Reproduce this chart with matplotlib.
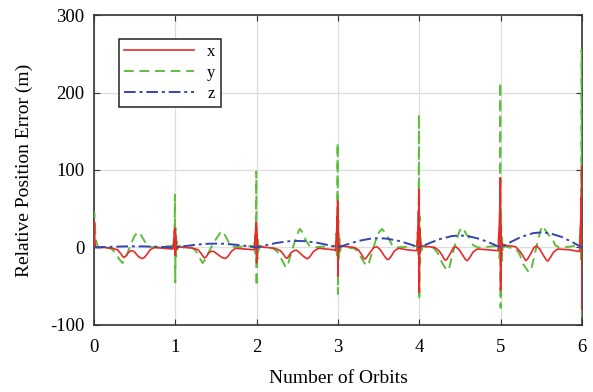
import numpy as np
import matplotlib
matplotlib.use("Agg")
import matplotlib.pyplot as plt

plt.rcParams['font.family'] = ['Liberation Serif', 'DejaVu Serif']
plt.rcParams['axes.unicode_minus'] = False

# x error (m) vs orbit count
x_t = [0, .003, .006, .01, .016, .03, .12, .22, .29, .33, .355, .37, .39, .42, .445, .47, .50, .54, .58, .60, .62, .65, .69, .74, .85, .95,
       .97, .985, .99, .994, .996, .999, 1.003, 1.008, 1.015, 1.03,
       1.12, 1.22, 1.28, 1.32, 1.345, 1.36, 1.38, 1.41, 1.44, 1.47, 1.51, 1.56, 1.6, 1.62, 1.65, 1.69, 1.74, 1.85, 1.95,
       1.97, 1.985, 1.99, 1.994, 1.996, 1.999, 2.003, 2.008, 2.015, 2.03,
       2.12, 2.22, 2.29, 2.33, 2.355, 2.37, 2.39, 2.42, 2.46, 2.49, 2.52, 2.57, 2.61, 2.63, 2.66, 2.7, 2.76, 2.85, 2.95,
       2.97, 2.985, 2.99, 2.994, 2.996, 2.999, 3.003, 3.008, 3.015, 3.03,
       3.12, 3.2, 3.25, 3.29, 3.315, 3.33, 3.35, 3.39, 3.44, 3.48, 3.52, 3.57, 3.6, 3.62, 3.65, 3.69, 3.74, 3.85, 3.95,
       3.97, 3.985, 3.99, 3.994, 3.996, 3.999, 4.003, 4.008, 4.015, 4.03,
       4.12, 4.19, 4.24, 4.28, 4.305, 4.32, 4.34, 4.38, 4.42, 4.45, 4.49, 4.54, 4.57, 4.59, 4.62, 4.66, 4.71, 4.85, 4.95,
       4.97, 4.985, 4.99, 4.994, 4.996, 4.999, 5.003, 5.008, 5.015, 5.03,
       5.12, 5.18, 5.23, 5.27, 5.295, 5.31, 5.33, 5.37, 5.41, 5.44, 5.48, 5.53, 5.56, 5.58, 5.61, 5.65, 5.7, 5.85, 5.95,
       5.97, 5.985, 5.99, 5.994, 5.996, 5.999, 6.0]
x_err = [0, 25, 33, 10, 2, 0, 0, -1, -3, -8, -12, -13, -11, -7, -4.5, -4, -6, -11, -14, -14, -13, -9, -3, 0, -1, -2,
         -2, 12, 22, 8, 25, -10, 15, 2, -3, 1,
         0, -1, -3, -8, -12, -13.5, -12, -7, -5, -5, -8, -12, -14, -14, -11, -5, -1, -2, -3,
         -3, 18, 30, 10, 32, -20, 18, -2, 3, 1,
         0, -1, -4, -9, -13, -14, -12, -7, -4, -3.5, -6, -11, -14, -14.5, -11, -5, -1, -2, -3,
         -4, 25, 40, 15, 60, -37, 20, -5, 5, 2,
         1, 0, -3, -9, -14, -15, -13, -7, 0, 1, -3, -11, -15, -15.5, -12, -5, -1, -3, -4,
         -4, 30, 48, 20, 75, -58, 25, -8, 5, 2,
         1, 0, -4, -10, -15, -16.5, -15, -8, 0, 1, -3, -11, -16, -17, -13, -6, -2, -3, -4,
         -4, 35, 55, 25, 90, -55, 28, -10, 6, 3,
         2, 1, -4, -10, -15, -17, -15, -8, 0, 2, -2, -11, -16, -17.5, -13, -6, -2, -3, -5,
         -5, 40, 65, 30, 105, -80, 60]

# y error (m)
y_t = [0, .003, .01, .02, .04, .06, .15, .22, .27, .31, .35, .38, .42, .46, .5, .54, .56, .6, .64, .68, .75, .85, .95,
       .97, .98, .986, .991, .995, .999, 1.004, 1.01, 1.016, 1.025, 1.04,
       1.1, 1.2, 1.25, 1.29, 1.335, 1.37, 1.42, 1.47, 1.52, 1.56, 1.58, 1.62, 1.66, 1.7, 1.8, 1.95,
       1.97, 1.98, 1.986, 1.991, 1.995, 1.999, 2.004, 2.01, 2.016, 2.025, 2.04,
       2.1, 2.2, 2.26, 2.31, 2.36, 2.39, 2.43, 2.47, 2.51, 2.53, 2.56, 2.6, 2.65, 2.7, 2.8, 2.95,
       2.97, 2.98, 2.986, 2.991, 2.995, 2.999, 3.004, 3.01, 3.016, 3.025, 3.04,
       3.1, 3.2, 3.25, 3.3, 3.35, 3.38, 3.42, 3.46, 3.5, 3.54, 3.57, 3.61, 3.63, 3.67, 3.72, 3.85, 3.95,
       3.97, 3.98, 3.986, 3.991, 3.995, 3.999, 4.004, 4.01, 4.016, 4.025, 4.04,
       4.1, 4.18, 4.23, 4.28, 4.34, 4.37, 4.41, 4.45, 4.49, 4.52, 4.55, 4.59, 4.62, 4.66, 4.72, 4.85, 4.95,
       4.97, 4.98, 4.986, 4.991, 4.995, 4.999, 5.004, 5.01, 5.016, 5.025, 5.04,
       5.1, 5.18, 5.23, 5.28, 5.345, 5.38, 5.42, 5.46, 5.49, 5.51, 5.54, 5.59, 5.63, 5.67, 5.72, 5.85, 5.95,
       5.97, 5.98, 5.986, 5.991, 5.995, 5.999, 6.0]
y_err = [0, 45, 30, 12, 3, 0, 0, -2, -8, -15, -20, -16, -5, 6, 15, 20, 19, 12, 5, 1, 0, 1, 2,
         2, 12, -5, 25, 68, -45, 25, -12, 8, -3, 2,
         0, 0, -4, -12, -20, -15, -4, 6, 14, 20, 21, 14, 6, 1, 1, 2,
         2, 15, -8, 30, 98, -50, 30, -15, 10, -4, 2,
         0, -1, -6, -16, -26, -20, -5, 8, 20, 24, 20, 10, 2, 0, 1, 2,
         2, 18, -10, 35, 135, -60, 35, -18, 12, -5, 2,
         0, -1, -6, -16, -24, -20, -6, 8, 19, 24, 20, 14, 10, 2, 0, 1, 2,
         2, 20, -12, 40, 172, -68, 40, -20, 14, -6, 2,
         0, -1, -8, -20, -30, -25, -8, 8, 20, 26, 22, 15, 12, 3, 0, 1, 2,
         2, 22, -14, 45, 213, -78, 45, -22, 15, -6, 2,
         0, -1, -8, -22, -32, -26, -8, 10, 22, 28, 24, 16, 13, 3, 0, 1, 3,
         3, 25, -15, 50, 255, -90, 40]

# z error (m)
z_t = [0, .1, .25, .4, .5, .6, .75, .9,
       1, 1.1, 1.25, 1.4, 1.5, 1.6, 1.75, 1.9,
       2, 2.1, 2.25, 2.4, 2.5, 2.6, 2.75, 2.9,
       3, 3.1, 3.25, 3.4, 3.5, 3.6, 3.75, 3.9,
       4, 4.1, 4.25, 4.4, 4.5, 4.6, 4.75, 4.9,
       5, 5.1, 5.25, 5.4, 5.5, 5.6, 5.75, 5.9, 6]
z_err = [0, 0.5, 1.0, 1.4, 1.5, 1.4, 1.0, 0.5,
         0, 1.5, 3.5, 4.8, 5, 4.8, 3.5, 1.5,
         0, 2.6, 6.0, 8.1, 8.5, 8.1, 6.0, 2.6,
         0, 3.6, 8.4, 11.4, 12, 11.4, 8.4, 3.6,
         0, 4.6, 10.8, 14.7, 15.5, 14.7, 10.8, 4.6,
         0, 5.8, 13.6, 18.5, 19.5, 18.5, 13.6, 5.8, 0]

fig = plt.figure(figsize=(5.93, 3.92), dpi=100)
ax = fig.add_axes([0.1585, 0.171, 0.823, 0.7907])

ax.plot(x_t, x_err, color='#e82a2a', lw=1.2, label='x', zorder=4)
ax.plot(y_t, y_err, color='#5cbf3c', lw=1.4, dashes=(5, 3), label='y', zorder=3)
ax.plot(z_t, z_err, color='#3545b0', lw=1.4, dashes=(6, 2, 1.5, 2), label='z', zorder=5)

ax.set_xlim(0, 6)
ax.set_ylim(-100, 300)
ax.set_xticks(range(0, 7))
ax.set_yticks([-100, 0, 100, 200, 300])
ax.grid(True, color='#dddddd', lw=0.9)
ax.set_axisbelow(True)
ax.tick_params(direction='in', top=True, right=True, labelsize=13.5, length=4, color='#333333')
ax.tick_params(axis='x', pad=10)
ax.tick_params(axis='y', pad=7)
for s in ax.spines.values():
    s.set_color('#333333')
    s.set_linewidth(1.2)

ax.set_xlabel('Number of Orbits', fontsize=14, labelpad=10)
ax.set_ylabel('Relative Position Error (m)', fontsize=14, labelpad=12)

leg = ax.legend(loc='upper left', bbox_to_anchor=(0.051, 0.923), borderaxespad=0,
                fancybox=False, fontsize=12, handlelength=4.2, labelspacing=0.3,
                borderpad=0.3, framealpha=1)
leg.get_frame().set_edgecolor('#222222')
leg.get_frame().set_linewidth(1.1)

fig.savefig('out.png', dpi=100)
